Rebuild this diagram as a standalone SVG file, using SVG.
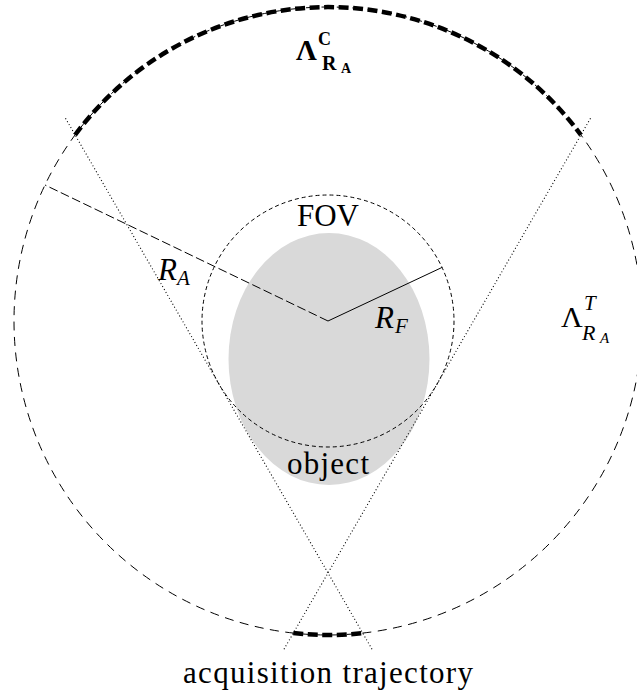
<svg xmlns="http://www.w3.org/2000/svg" width="637" height="694" viewBox="0 0 637 694">
<rect x="0" y="0" width="637" height="694" fill="#ffffff"/>
<g id="object">
<ellipse cx="329" cy="359" rx="100.5" ry="126" fill="#d9d9d9"/>
</g>
<g id="acquisition-circle">
<circle cx="328" cy="321" r="314" fill="none" stroke="#000000" stroke-width="1" stroke-dasharray="9 6.5"/>
</g>
<g id="fov">
<circle cx="328" cy="321" r="126" fill="none" stroke="#000000" stroke-width="1" stroke-dasharray="4 3"/>
</g>
<g id="connectors" fill="none" stroke="#000000">
<line x1="328" y1="321" x2="45" y2="185" stroke-width="1" stroke-dasharray="9 3.5"/>
<line x1="328" y1="321" x2="442.3" y2="267.3" stroke-width="1"/>
<line x1="65.5" y1="118.3" x2="372" y2="649.2" stroke-width="1.1" stroke-dasharray="1 2.4"/>
<line x1="590.5" y1="118.3" x2="284" y2="649.2" stroke-width="1.1" stroke-dasharray="1 2.4"/>
</g>
<g id="complete-arc">
<path d="M75.1 135 A314 314 0 0 1 580.9 135" fill="none" stroke="#000000" stroke-width="4.5" stroke-dasharray="10 4.5"/>
</g>
<g id="trajectory-arc">
<path d="M293.3 633.1 A314 314 0 0 0 362.7 633.1" fill="none" stroke="#000000" stroke-width="4.5" stroke-dasharray="10 4.5"/>
</g>
<g id="label-complete">
<text style="font-family:'Liberation Serif',serif" font-weight="bold" x="296" y="60" font-size="29">&#923;</text>
<text style="font-family:'Liberation Serif',serif" font-weight="bold" x="318" y="45" font-size="18">C</text>
<text style="font-family:'Liberation Serif',serif" font-weight="bold" x="322" y="70" font-size="20">R</text>
<text style="font-family:'Liberation Serif',serif" font-weight="bold" x="341" y="73" font-size="14">A</text>
</g>
<g id="label-truncated">
<text style="font-family:'Liberation Serif',serif" x="561" y="327" font-size="30">&#923;</text>
<text style="font-family:'Liberation Serif',serif" font-style="italic" x="584" y="310" font-size="21">T</text>
<text style="font-family:'Liberation Serif',serif" font-style="italic" x="582" y="340" font-size="22">R</text>
<text style="font-family:'Liberation Serif',serif" font-style="italic" x="600" y="343" font-size="15">A</text>
</g>
<g id="label-ra">
<text style="font-family:'Liberation Serif',serif" font-style="italic" x="158" y="280" font-size="31">R</text>
<text style="font-family:'Liberation Serif',serif" font-style="italic" x="177" y="285" font-size="21">A</text>
</g>
<g id="label-rf">
<text style="font-family:'Liberation Serif',serif" font-style="italic" x="375" y="328" font-size="31">R</text>
<text style="font-family:'Liberation Serif',serif" font-style="italic" x="395" y="333" font-size="21">F</text>
</g>
<g id="label-fov">
<text style="font-family:'Liberation Serif',serif" x="328" y="226" font-size="31" text-anchor="middle">FOV</text>
</g>
<g id="label-object">
<text style="font-family:'Liberation Serif',serif" x="287" y="474" font-size="31" textLength="82">object</text>
</g>
<g id="label-trajectory">
<text style="font-family:'Liberation Serif',serif" x="183" y="683" font-size="31" textLength="290">acquisition trajectory</text>
</g>
</svg>
